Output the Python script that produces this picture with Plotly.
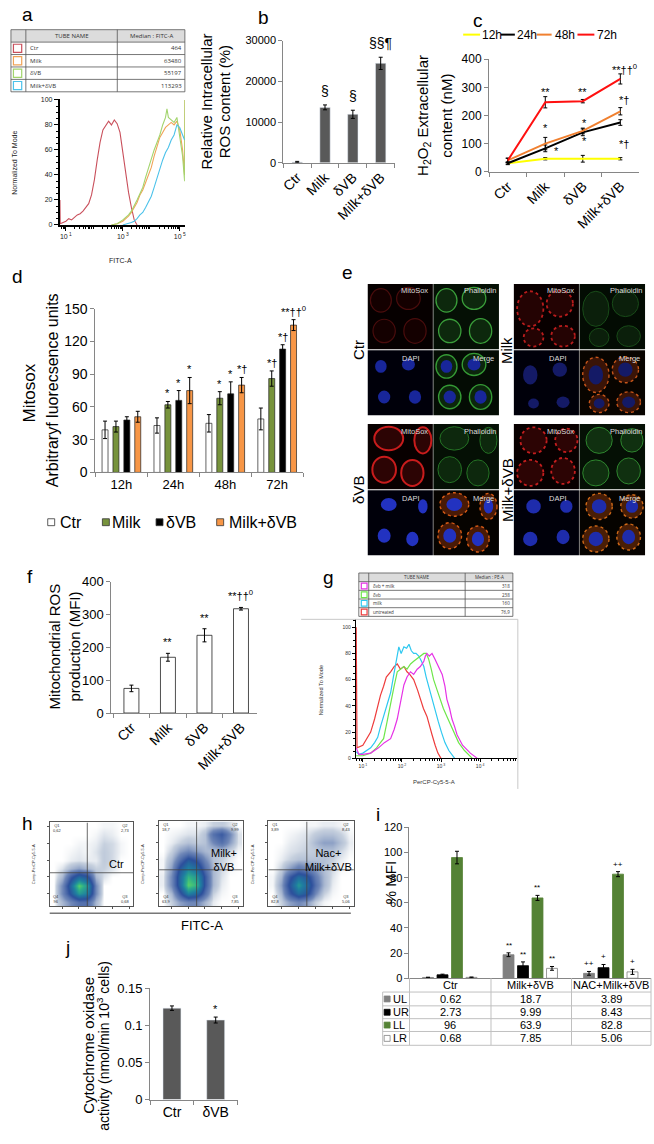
import plotly.graph_objects as go

W, H = 654, 1144
SANS = "Liberation Sans, Arial, sans-serif"
CAL = "Open Sans, sans-serif"
GRAY = "#868686"

# ---------------- data ----------------
groups = ["Ctr", "Milk", "δVB", "Milk+δVB"]

# a: FITC-A histograms, x = log10(FITC-A), y = % of mode
a_tubes = ["Ctr", "Milk", "δVB", "Milk+δVB"]
a_medians = ["464", "63480", "55197", "113293"]
a_colors = ["#c9505c", "#f0a458", "#a2d46c", "#4cc2ea"]
a_ctr_lx = [0.79, 0.8, 0.9, 1.0, 1.1, 1.2, 1.3, 1.4, 1.5, 1.6, 1.7, 1.8, 1.9, 2.0, 2.1,
            2.2, 2.3, 2.4, 2.5, 2.6, 2.7, 2.8, 2.9, 3.0, 3.1, 3.2, 3.3, 3.4, 3.5]
a_ctr_y = [20, 1, 2, 3, 5, 4, 6, 8, 9, 11, 14, 17, 24, 36, 52,
           66, 76, 80, 83, 80, 84, 81, 74, 58, 40, 26, 14, 4, 0]
a_milk_lx = [2.6, 2.8, 3.0, 3.2, 3.3, 3.4, 3.5, 3.6, 3.7, 3.8, 3.9, 4.0, 4.1, 4.2, 4.3,
             4.4, 4.5, 4.6, 4.7, 4.8, 4.9, 5.0, 5.1, 5.17, 5.18]
a_milk_y = [0, 1, 3, 7, 10, 14, 18, 24, 28, 34, 40, 46, 55, 62, 70,
            74, 78, 80, 82, 80, 83, 76, 60, 40, 100]
a_dvb_lx = [2.6, 2.8, 3.0, 3.1, 3.2, 3.3, 3.4, 3.5, 3.6, 3.7, 3.8, 3.9, 4.0, 4.1, 4.2,
            4.3, 4.4, 4.5, 4.55, 4.6, 4.7, 4.8, 4.9, 5.0, 5.1, 5.17, 5.18]
a_dvb_y = [0, 1, 4, 6, 8, 11, 15, 20, 25, 30, 38, 46, 52, 60, 66,
           72, 80, 86, 93, 86, 84, 82, 86, 72, 55, 35, 100]
a_mix_lx = [3.0, 3.2, 3.3, 3.4, 3.5, 3.6, 3.7, 3.8, 3.9, 4.0, 4.1, 4.2, 4.3, 4.4, 4.5,
            4.6, 4.7, 4.8, 4.9, 5.0, 5.1, 5.17]
a_mix_y = [0, 1, 2, 3, 5, 8, 10, 14, 18, 23, 30, 38, 44, 52, 58,
           62, 68, 72, 80, 78, 72, 68]

# b: relative intracellular ROS (%)
b_ros = [200, 13600, 11900, 24400]
b_err = [150, 600, 1000, 1500]
b_sig = ["", "§", "§", "§§¶"]

# c: H2O2 extracellular (nM)
c_hours = ["12h", "24h", "48h", "72h"]
c_colors = ["#ffff00", "#000000", "#f08030", "#ff1010"]
c_vals = {"12h": [30, 46, 46, 46], "24h": [30, 83, 140, 175],
          "48h": [40, 100, 145, 215], "72h": [40, 247, 251, 330]}
c_errs = {"12h": [3, 4, 12, 4], "24h": [5, 12, 12, 10],
          "48h": [8, 22, 10, 13], "72h": [8, 20, 6, 18]}
c_sig_x = [1, 2, 3.1, 1, 1.3, 2.05, 2.05, 3.1, 3.1]
c_sig_y = [283, 283, 367, 154, 72, 172, 108, 256, 99]
c_sig_txt = ["**", "**", "**††<sup>0</sup>", "*", "*", "*", "*", "*†", "*†"]

# d: Mitosox fluorescence
d_hours = ["12h", "24h", "48h", "72h"]
d_series = ["Ctr", "Milk", "δVB", "Milk+δVB"]
d_colors = ["#ffffff", "#77933c", "#000000", "#f79646"]
d_vals = [[39, 43, 45, 49], [42, 62, 68, 86], [48, 66, 72, 113], [51, 75, 80, 135]]
d_errs = [[8, 7, 8, 10], [5, 3, 6, 7], [3, 9, 11, 4], [5, 12, 7, 5]]
d_sig = [["", "", "", ""], ["", "*", "*", "*†"], ["", "*", "*", "*†"],
         ["", "*", "*†", "**††<sup>0</sup>"]]

# f: mitochondrial ROS (MFI)
f_mfi = [75, 170, 237, 318]
f_err = [10, 12, 20, 4]
f_sig = ["", "**", "**", "**††<sup>0</sup>"]

# g: PerCP-Cy5-5-A histograms, x = log10, y = % of mode
g_tubes = ["δvb + milk", "δvb", "milk", "untreated"]
g_medians = ["318", "238", "160", "76,9"]
g_colors = ["#e632e6", "#6ee64a", "#2ec8f0", "#ee3c3c"]
g_mix_lx = [0.83, 0.9, 1.0, 1.2, 1.4, 1.55, 1.71, 1.8, 1.88, 1.96, 2.05, 2.13, 2.22, 2.3, 2.39,
            2.47, 2.56, 2.6, 2.64, 2.7, 2.77, 2.84, 2.9, 2.96, 3.03, 3.1, 3.15, 3.22, 3.28,
            3.35, 3.41, 3.55, 3.75, 3.93]
g_mix_y = [8, 3, 3, 4, 8, 12, 15, 22, 30, 42, 56, 62, 66, 64, 68,
           70, 74, 78, 80, 78, 80, 76, 72, 68, 64, 55, 45, 38, 30,
           24, 18, 10, 4, 0]
g_dvb_lx = [0.83, 1.0, 1.2, 1.35, 1.45, 1.53, 1.62, 1.71, 1.8, 1.88, 1.96, 2.05, 2.13, 2.22,
            2.3, 2.39, 2.47, 2.56, 2.62, 2.68, 2.75, 2.81, 2.9, 2.98, 3.06, 3.15, 3.24, 3.32,
            3.45, 3.6, 3.8]
g_dvb_y = [2, 2, 4, 8, 12, 15, 28, 43, 55, 66, 68, 70, 68, 72,
           74, 76, 78, 80, 80, 76, 68, 60, 52, 45, 38, 32, 26, 20,
           12, 6, 0]
g_milk_lx = [0.83, 0.9, 1.0, 1.1, 1.2, 1.3, 1.38, 1.45, 1.53, 1.6, 1.71, 1.78, 1.84, 1.92,
             1.98, 2.05, 2.12, 2.18, 2.24, 2.3, 2.36, 2.43, 2.5, 2.56, 2.62, 2.68, 2.76,
             2.85, 2.93, 3.01, 3.1, 3.2, 3.3, 3.35]
g_milk_y = [5, 3, 4, 6, 8, 12, 16, 24, 32, 40, 50, 62, 72, 85,
            80, 85, 84, 87, 82, 80, 80, 78, 74, 70, 62, 55, 46,
            37, 28, 20, 12, 6, 2, 0]
g_unt_lx = [0.83, 0.85, 1.0, 1.1, 1.2, 1.3, 1.38, 1.45, 1.53, 1.6, 1.71, 1.8, 1.88, 1.96,
            2.05, 2.13, 2.2, 2.3, 2.4, 2.47, 2.55, 2.64, 2.7, 2.77, 2.85, 2.92, 3.0]
g_unt_y = [100, 8, 10, 15, 20, 30, 40, 48, 55, 62, 66, 70, 72, 68,
           70, 66, 64, 60, 52, 45, 38, 32, 25, 18, 10, 4, 0]

# h: annexin / PI density plots (coarse density grid, rows bottom -> top)
h_titles = ["Ctr", "Milk+<br>δVB", "Nac+<br>Milk+δVB"]
h_ctr = [[0, 1, 2, 3, 3, 1, 0, 0, 0, 0],
         [0, 2, 5, 8, 7, 2, 0, 0, 0, 0],
         [0, 2, 6, 10, 8, 2, 0, 0, 0, 0],
         [0, 1, 4, 6, 5, 1, 0.3, 0, 0, 0],
         [0, 0.3, 1, 1.5, 1, 0.5, 0.5, 0.3, 0, 0],
         [0, 0, 0.2, 0.3, 0.2, 0.2, 0.6, 0.4, 0, 0],
         [0, 0, 0.1, 0.2, 0.1, 0.3, 0.6, 0.4, 0.1, 0],
         [0, 0, 0, 0.1, 0.1, 0.2, 0.5, 0.4, 0.1, 0],
         [0, 0, 0, 0, 0, 0.1, 0.3, 0.2, 0, 0],
         [0, 0, 0, 0, 0, 0, 0.1, 0.1, 0, 0]]
h_mix = [[0, 0.5, 1.5, 2, 2, 1, 0.2, 0, 0, 0],
         [0, 1, 4, 7, 6, 3, 0.5, 0.1, 0, 0],
         [0.2, 2, 6, 10, 9, 4, 1, 0.2, 0, 0],
         [0.2, 2, 6, 9, 8, 4, 1, 0.3, 0, 0],
         [0.1, 1.5, 5, 7, 6, 3, 1, 0.4, 0.1, 0],
         [0.1, 1, 3, 5, 4, 2, 0.8, 0.5, 0.2, 0],
         [0, 0.5, 1.5, 2, 1.5, 1, 0.8, 0.8, 0.4, 0.1],
         [0, 0.2, 0.5, 0.8, 0.6, 0.8, 2, 3, 1.5, 0.3],
         [0, 0.1, 0.2, 0.3, 0.3, 0.8, 3, 4, 2, 0.3],
         [0, 0, 0, 0.1, 0.1, 0.2, 0.5, 0.6, 0.3, 0]]
h_nac = [[0, 0.5, 1.5, 2, 1.5, 0.5, 0.1, 0, 0, 0],
         [0, 1, 4, 6, 5, 2, 0.5, 0.1, 0, 0],
         [0.1, 1.5, 5, 8, 6, 3, 1, 0.2, 0, 0],
         [0.1, 1, 4, 6, 5, 2.5, 1, 0.3, 0, 0],
         [0, 0.5, 1.5, 2.5, 2, 1.5, 0.8, 0.4, 0.1, 0],
         [0, 0.2, 0.5, 0.8, 0.8, 0.8, 0.8, 0.5, 0.2, 0],
         [0, 0.1, 0.3, 0.4, 0.5, 0.6, 0.8, 0.8, 0.4, 0.1],
         [0, 0, 0.2, 0.3, 0.4, 1, 1.5, 1.5, 0.8, 0.2],
         [0, 0, 0.1, 0.2, 0.3, 0.6, 0.8, 0.8, 0.5, 0.1],
         [0, 0, 0, 0, 0.1, 0.1, 0.2, 0.2, 0.1, 0]]
h_gate_x = [4.0, 4.0, 4.0]
h_gate_y = [3.5, 3.8, 3.8]

# i: % MFI per quadrant
i_groups = ["Ctr", "Milk+δVB", "NAC+Milk+δVB"]
i_quads = ["UL", "UR", "LL", "LR"]
i_colors = ["#808080", "#000000", "#548235", "#ffffff"]
i_vals = [[0.62, 18.7, 3.89], [2.73, 9.99, 8.43], [96, 63.9, 82.8], [0.68, 7.85, 5.06]]
i_errs = [[0.2, 1.5, 1.5], [0.5, 3, 2.5], [5, 2, 2], [0.3, 1.5, 2]]
i_sig = [["", "**", "++"], ["", "**", "+"], ["", "**", "++"], ["", "**", "+"]]

# j: cytochrome oxidase activity
j_groups = ["Ctr", "δVB"]
j_act = [0.123, 0.107]
j_err = [0.003, 0.004]
j_sig = ["", "*"]


# ---------------- helpers ----------------
def px(x):
    return x / W


def py(y):
    return 1 - y / H


lay = {}
anns = []
shp = []
fig = go.Figure()


def axstyle(**kw):
    d = dict(showgrid=False, zeroline=False, showline=True, linecolor=GRAY, linewidth=1,
             ticks="outside", ticklen=4, tickcolor=GRAY, tickwidth=1,
             tickfont=dict(family=SANS, size=12, color="black"))
    d.update(kw)
    return d


def subplot(n, box, xa, ya):
    x0, y0, x1, y1 = box
    k = "" if n == 1 else str(n)
    lay["xaxis" + k] = dict(domain=[px(x0), px(x1)], anchor="y" + k, **xa)
    lay["yaxis" + k] = dict(domain=[py(y1), py(y0)], anchor="x" + k, **ya)
    return "x" + k, "y" + k


def text(x, y, s, size=12, color="black", xa="center", ya="middle", angle=0, family=SANS):
    anns.append(dict(x=px(x), y=py(y), xref="paper", yref="paper", text=s, showarrow=False,
                     font=dict(size=size, color=color, family=family), xanchor=xa,
                     yanchor=ya, textangle=angle, borderpad=0))


def line(x0, y0, x1, y1, color="black", width=1):
    shp.append(dict(type="line", xref="paper", yref="paper", x0=px(x0), y0=py(y0),
                    x1=px(x1), y1=py(y1), line=dict(color=color, width=width)))


def rect(x0, y0, x1, y1, fill, color=None, width=0, kind="rect", dash="solid"):
    shp.append(dict(type=kind, xref="paper", yref="paper", x0=px(x0), y0=py(y1),
                    x1=px(x1), y1=py(y0), fillcolor=fill,
                    line=dict(color=color or fill, width=width, dash=dash)))


def err(arr):
    return dict(type="data", array=arr, color="black", thickness=1, width=2)


def sig(xr, yr, x, y, s, size=11, shift=2):
    anns.append(dict(x=x, y=y, xref=xr, yref=yr, text=s, showarrow=False, yanchor="bottom",
                     yshift=shift, font=dict(size=size, family=SANS, color="black")))


def flow_table(x0, x1, cols, ytop, rowh, head, names, vals, colors, size):
    nrow = len(names) + 1
    ybot = ytop + rowh * nrow
    rect(x0, ytop, x1, ytop + rowh, "#dcdcdc")
    for k in range(nrow + 1):
        line(x0, ytop + k * rowh, x1, ytop + k * rowh, "#555555", 0.8)
    for c in [x0] + cols + [x1]:
        line(c, ytop, c, ybot, "#555555", 0.8)
    text((cols[0] + cols[1]) / 2, ytop + rowh / 2, head[0], size, "#333333", family=CAL)
    text((cols[1] + x1) / 2, ytop + rowh / 2, head[1], size, "#333333", family=CAL)
    for k, (nm, v, c) in enumerate(zip(names, vals, colors)):
        yc = ytop + rowh * (k + 1.5)
        s = rowh * 0.33
        rect(x0 + 2.5, yc - s, x0 + 2.5 + 2 * s, yc + s, "rgba(0,0,0,0)", c, 1.2)
        text(cols[0] + 3, yc, nm, size, "#333333", xa="left", family=CAL)
        text(x1 - 2, yc, v, size, "#333333", xa="right", family=CAL)


# ---------------- a ----------------
a_minor = [m * 10 ** e for e in range(0, 6) for m in range(2, 10)]
xa, ya = subplot(1, (57, 92, 183, 220),
                 axstyle(type="log", range=[0.78, 5.18], tickvals=[10, 1000, 100000],
                         ticktext=["10<sup> 1</sup>", "10<sup> 3</sup>", "10<sup> 5</sup>"],
                         linecolor="black", tickcolor="black", linewidth=1.5, ticklen=4,
                         tickfont=dict(family=SANS, size=7, color="#222"),
                         minor=dict(ticks="outside", ticklen=2, tickvals=a_minor,
                                    tickcolor="black")),
                 axstyle(range=[0, 101], dtick=20, linecolor="black", tickcolor="black",
                         linewidth=1.5, tickfont=dict(family=SANS, size=7, color="#222"),
                         minor=dict(ticks="outside", ticklen=2, dtick=5, tickcolor="black")))
for lx, yy, c in [(a_ctr_lx, a_ctr_y, a_colors[0]), (a_milk_lx, a_milk_y, a_colors[1]),
                  (a_dvb_lx, a_dvb_y, a_colors[2]), (a_mix_lx, a_mix_y, a_colors[3])]:
    fig.add_trace(go.Scatter(x=[10 ** v for v in lx], y=yy, mode="lines",
                             line=dict(color=c, width=1.1), xaxis=xa, yaxis=ya))
text(12, 157, "Normalized To Mode", 7, "#222", angle=-90)
text(118, 256, "FITC-A", 7, "#222")
flow_table(8, 183, [23, 115], 22, 12.6, ["TUBE NAME", "Median : FITC-A"],
           a_tubes, a_medians, a_colors, 6)

# ---------------- b ----------------
xa, ya = subplot(2, (282, 33, 394, 157),
                 axstyle(type="category", range=[-0.5, 3.5], tickson="boundaries",
                         tickangle=-45, tickfont=dict(family=SANS, size=14, color="black")),
                 axstyle(range=[0, 30000], tickvals=[0, 10000, 20000, 30000], tickformat="d",
                         tickfont=dict(family=SANS, size=11, color="black")))
fig.add_trace(go.Bar(x=groups, y=b_ros, width=0.37, marker=dict(color="#595959"),
                     error_y=err(b_err), xaxis=xa, yaxis=ya))
for i, s in enumerate(b_sig):
    if s:
        sig(xa, ya, i, b_ros[i] + b_err[i], s, 14, 4)
text(205, 95, "Relative Intracellular", 15, angle=-90)
text(223, 95, "ROS content (%)", 15, angle=-90)

# ---------------- c ----------------
xa, ya = subplot(3, (489, 52, 640, 166),
                 axstyle(type="category", range=[-0.5, 3.5], tickson="boundaries",
                         tickangle=-45, tickfont=dict(family=SANS, size=14, color="black")),
                 axstyle(range=[0, 400], dtick=100,
                         tickfont=dict(family=SANS, size=12, color="black")))
for h, c in zip(c_hours, c_colors):
    fig.add_trace(go.Scatter(x=groups, y=c_vals[h], mode="lines", line=dict(color=c, width=2),
                             error_y=err(c_errs[h]), xaxis=xa, yaxis=ya))
for x, y, s in zip(c_sig_x, c_sig_y, c_sig_txt):
    anns.append(dict(x=x, y=y, xref=xa, yref=ya, text=s, showarrow=False,
                     font=dict(size=11, family=SANS, color="black")))
text(423, 109, "H<sub>2</sub>O<sub>2</sub> Extracellular", 15, angle=-90)
text(446, 109, "content (nM)", 15, angle=-90)
for (l0, l1, tx), h, c in zip([(463, 480, 481), (501, 515, 516), (537, 552, 554), (578, 595, 597)],
                              c_hours, c_colors):
    line(l0, 27, l1, 27, c, 2)
    text(tx, 27, h, 12, xa="left")

# ---------------- d ----------------
xa, ya = subplot(4, (93, 305, 302, 471),
                 axstyle(type="category", range=[-0.5, 3.5], tickson="boundaries",
                         tickfont=dict(family=SANS, size=13, color="black")),
                 axstyle(range=[0, 150], dtick=30,
                         tickfont=dict(family=SANS, size=14, color="black")))
pitch, bw = 0.21, 0.115
for k in range(4):
    off = (k - 1.5) * pitch - bw / 2
    fig.add_trace(go.Bar(x=d_hours, y=d_vals[k], width=bw, offset=off,
                         marker=dict(color=d_colors[k], line=dict(color="#222", width=0.7)),
                         error_y=err(d_errs[k]), xaxis=xa, yaxis=ya))
    for j, s in enumerate(d_sig[k]):
        if s:
            sig(xa, ya, j + off + bw / 2, d_vals[k][j] + d_errs[k][j], s, 11, 0)
text(27, 390, "Mitosox", 17, angle=-90)
text(50, 388, "Arbitraryf luorecsence units", 16, angle=-90)
for (s0, tx), nm, c in zip([(45, 56), (100, 109), (154, 163), (215, 226)], d_series, d_colors):
    rect(s0, 518, s0 + 7, 525, c, "#333", 0.8)
    text(tx, 522, nm, 16, xa="left")

# ---------------- e (confocal tiles, schematic) ----------------
E_ST = {
    "Ctr": dict(mb="#060000", mf="rgba(50,0,0,0.35)", ml="#4a0c0c", mw=1.2, md="solid",
                pb="#051005", pf="rgba(20,60,20,0.55)", pl="#3a9e3a", pw=1.3,
                dn="#18269a", gb="#040c04", gf="rgba(20,60,20,0.55)", gl="#359a35", gd="solid"),
    "Milk": dict(mb="#080000", mf="rgba(90,8,8,0.35)", ml="#b81c1c", mw=1.8, md="dot",
                 pb="#030c03", pf="rgba(16,45,16,0.6)", pl="#184a18", pw=1,
                 dn="#141a66", gb="#080400", gf="rgba(120,40,16,0.45)", gl="#c8561a", gd="dot"),
    "δVB": dict(mb="#080000", mf="rgba(100,10,10,0.4)", ml="#c81c1c", mw=2, md="solid",
                pb="#051005", pf="rgba(20,60,20,0.55)", pl="#247224", pw=1,
                dn="#2232c0", gb="#060300", gf="rgba(140,50,12,0.5)", gl="#d85c16", gd="dot"),
    "Milk+δVB": dict(mb="#080000", mf="rgba(100,10,10,0.4)", ml="#c41e1e", mw=1.8, md="dot",
                     pb="#051005", pf="rgba(25,75,25,0.55)", pl="#2e862e", pw=1,
                     dn="#1e2cac", gb="#060300", gf="rgba(140,58,12,0.5)", gl="#d06a18",
                     gd="dot"),
}
E_CELLS = {
    "Ctr": [(0.2, 0.25, 0.16, 0.18), (0.62, 0.22, 0.18, 0.17),
            (0.25, 0.72, 0.17, 0.18), (0.72, 0.72, 0.17, 0.19)],
    "Milk": [(0.25, 0.38, 0.2, 0.27), (0.7, 0.3, 0.2, 0.2),
             (0.75, 0.8, 0.18, 0.16), (0.3, 0.82, 0.15, 0.14)],
    "δVB": [(0.32, 0.22, 0.22, 0.18), (0.84, 0.25, 0.13, 0.2),
            (0.25, 0.7, 0.18, 0.2), (0.68, 0.75, 0.17, 0.2)],
    "Milk+δVB": [(0.3, 0.25, 0.2, 0.2), (0.8, 0.25, 0.17, 0.18),
                 (0.25, 0.75, 0.2, 0.2), (0.75, 0.72, 0.18, 0.2)],
}
T = 66
for name, x0, y0, lx, ly in [("Ctr", 367, 280, 357, 347), ("Milk", 514, 280, 506, 347),
                              ("δVB", 367, 422, 357, 489), ("Milk+δVB", 514, 422, 507, 489)]:
    st = E_ST[name]
    tiles = {"m": (x0, y0), "p": (x0 + T, y0), "d": (x0, y0 + T + 1), "g": (x0 + T, y0 + T + 1)}
    rect(x0, y0, x0 + T - 0.5, y0 + T, st["mb"])
    rect(x0 + T, y0, x0 + 2 * T, y0 + T, st["pb"])
    rect(x0, y0 + T + 1, x0 + T - 0.5, y0 + 2 * T + 1, "#00000a")
    rect(x0 + T, y0 + T + 1, x0 + 2 * T, y0 + 2 * T + 1, st["gb"])
    for cx, cy, rx, ry in E_CELLS[name]:
        def ell(tile, fr, fill, col, wd, dash="solid"):
            tx, ty = tiles[tile]
            rect(tx + (cx - rx * fr) * T, ty + (cy - ry * fr) * T,
                 tx + (cx + rx * fr) * T, ty + (cy + ry * fr) * T,
                 fill, col, wd, "circle", dash)
        ell("m", 1, st["mf"], st["ml"], st["mw"], st["md"])
        ell("p", 1, st["pf"], st["pl"], st["pw"])
        ell("d", 0.55, st["dn"], st["dn"], 0)
        ell("g", 1, st["gf"], st["gl"], 1.4, st["gd"])
        ell("g", 0.55, st["dn"], st["dn"], 0)
    text(x0 + T - 4, y0 + 7, "MitoSox", 7.5, "#dddddd", xa="right")
    text(x0 + 2 * T - 1, y0 + 7, "Phalloidin", 7.5, "#dddddd", xa="right")
    text(x0 + T - 12, y0 + T + 9, "DAPI", 7.5, "#dddddd", xa="right")
    text(x0 + 2 * T - 4, y0 + T + 9, "Merge", 7.5, "#dddddd", xa="right")
    text(lx, ly, name, 15, angle=-90)

# ---------------- f ----------------
xa, ya = subplot(5, (109, 582, 256, 715),
                 axstyle(type="category", range=[-0.55, 3.45], tickson="boundaries",
                         tickangle=-45, tickfont=dict(family=SANS, size=14, color="black")),
                 axstyle(range=[0, 400], dtick=100,
                         tickfont=dict(family=SANS, size=13, color="black")))
fig.add_trace(go.Bar(x=groups, y=f_mfi, width=0.41,
                     marker=dict(color="white", line=dict(color="#222", width=0.8)),
                     error_y=err(f_err), xaxis=xa, yaxis=ya))
for i, s in enumerate(f_sig):
    if s:
        sig(xa, ya, i, f_mfi[i] + f_err[i], s, 11, 3)
text(52, 648, "Mitochondrial ROS", 15, angle=-90)
text(72, 648, "production (MFI)", 15, angle=-90)

# ---------------- g ----------------
g_minor = [m * 10 ** e for e in range(0, 5) for m in range(2, 10)]
xa, ya = subplot(6, (355, 620, 517, 761),
                 axstyle(type="log", range=[0.82, 4.94], tickvals=[10, 100, 1000, 10000],
                         ticktext=["10<sup> 1</sup>", "10<sup> 2</sup>", "10<sup> 3</sup>",
                                   "10<sup> 4</sup>"],
                         linecolor="black", tickcolor="black", linewidth=1.2, ticklen=3,
                         tickfont=dict(family=SANS, size=5, color="#333"),
                         minor=dict(ticks="outside", ticklen=2, tickvals=g_minor,
                                    tickcolor="black")),
                 axstyle(range=[0, 106], tickvals=[0, 20, 40, 60, 80, 100],
                         linecolor="black", tickcolor="black", linewidth=1.2, ticklen=3,
                         tickfont=dict(family=SANS, size=5, color="#333"),
                         minor=dict(ticks="outside", ticklen=2, dtick=5, tickcolor="black")))
for lx, yy, c in [(g_unt_lx, g_unt_y, g_colors[3]), (g_milk_lx, g_milk_y, g_colors[2]),
                  (g_dvb_lx, g_dvb_y, g_colors[1]), (g_mix_lx, g_mix_y, g_colors[0])]:
    fig.add_trace(go.Scatter(x=[10 ** v for v in lx], y=yy, mode="lines",
                             line=dict(color=c, width=1.2), xaxis=xa, yaxis=ya))
line(300, 620, 518, 620, "#c8c8c8", 1)
line(518, 620, 518, 792, "#c8c8c8", 1)
text(320, 692, "Normalized To Mode", 5.5, "#333", angle=-90)
text(434, 785, "PerCP-Cy5-5-A", 6, "#333")
flow_table(358, 513, [368, 465], 573, 8.8, ["TUBE NAME", "Median : PE-A"],
           g_tubes, g_medians, g_colors, 4.5)

# ---------------- h ----------------
h_scale = [[0, "#ffffff"], [0.01, "#f4f6f8"], [0.05, "#c6d0de"], [0.2, "#7088b8"],
           [0.45, "#2c4f9c"], [0.7, "#1f7fa0"], [0.88, "#2eae8a"], [1, "#58d268"]]
h_quads = [[0.62, 2.73, 96.0, 0.68], [18.7, 9.99, 63.9, 7.85], [3.89, 8.43, 82.8, 5.06]]
h_boxes = [(47, 826, 131, 911), (157, 825, 241, 911), (267, 825, 353, 911)]
h_lbl = [(123, 868, "right"), (236, 864, "right"), (352, 864, "right")]
for n, (z, box, gx, gy, q, lb, ttl) in enumerate(zip([h_ctr, h_mix, h_nac], h_boxes,
                                                     h_gate_x, h_gate_y, h_quads, h_lbl,
                                                     h_titles)):
    edge = dict(showgrid=False, zeroline=False, showline=True, mirror=True, linecolor="#555",
                linewidth=0.8, ticks="outside", ticklen=2, tickcolor="#555",
                range=[-0.5, 9.5], tickvals=[1, 3, 5, 7, 9], showticklabels=False)
    xa, ya = subplot(7 + n, box, edge, dict(edge))
    fig.add_trace(go.Heatmap(z=z, colorscale=h_scale, zmin=0, zmax=10, zsmooth="best",
                             showscale=False, hoverinfo="skip", xaxis=xa, yaxis=ya))
    shp.append(dict(type="line", xref=xa, yref=ya, x0=gx, x1=gx, y0=-0.5, y1=9.5,
                    line=dict(color="#444", width=0.8)))
    shp.append(dict(type="line", xref=xa, yref=ya, x0=-0.5, x1=9.5, y0=gy, y1=gy,
                    line=dict(color="#444", width=0.8)))
    qs = [f"{v:.3g}".replace(".", ",") for v in q]
    x0, y0, x1, y1 = box
    text(x0 + 2, y0 + 6, "Q1<br>" + qs[0], 4, "#333", xa="left")
    text(x1 - 2, y0 + 6, "Q2<br>" + qs[1], 4, "#333", xa="right")
    text(x0 + 2, y1 - 7, "Q4<br>" + qs[2], 4, "#333", xa="left")
    text(x1 - 2, y1 - 7, "Q3<br>" + qs[3], 4, "#333", xa="right")
    text(x0 - 16, (y0 + y1) / 2, "Comp-PerCP-Cy5-5-A", 4, "#333", angle=-90)
    text(lb[0], lb[1], ttl, 11, xa=lb[2])
line(47, 918, 350, 918, "#333", 1)
text(200, 931, "FITC-A", 13)

# ---------------- i ----------------
xa, ya = subplot(10, (409, 831, 652, 984),
                 axstyle(type="category", range=[-0.5, 2.5], showticklabels=False, ticks=""),
                 axstyle(range=[0, 120], dtick=20,
                         tickfont=dict(family=SANS, size=11, color="black")))
ip, iw = 0.18, 0.136
for k in range(4):
    off = (k - 1.5) * ip - iw / 2
    fig.add_trace(go.Bar(x=i_groups, y=i_vals[k], width=iw, offset=off,
                         marker=dict(color=i_colors[k],
                                     line=dict(color="#808080" if k == 3 else i_colors[k],
                                               width=0.8)),
                         error_y=err(i_errs[k]), xaxis=xa, yaxis=ya))
    for j, s in enumerate(i_sig[k]):
        if s:
            sig(xa, ya, j + off + iw / 2, i_vals[k][j] + i_errs[k][j], s, 8, 1)
text(390, 887, "% MFI", 15, angle=-90)
for c in [409, 491, 572, 652]:
    line(c, 984, c, 1052, "#c0c0c0", 1)
line(382, 998, 382, 1052, "#c0c0c0", 1)
for r in [998, 1012, 1025, 1038, 1052]:
    line(382, r, 652, r, "#c0c0c0", 1)
for g, cx in zip(i_groups, [450, 531, 612]):
    text(cx, 991, g, 11)
for k, (q, c, rc) in enumerate(zip(i_quads, i_colors, [1005, 1018.5, 1031.5, 1045])):
    rect(383.5, rc - 3, 389.5, rc + 3, c, "#808080" if k == 3 else c, 0.8)
    text(391, rc, q, 11, xa="left")
    for v, cx in zip(i_vals[k], [450, 531, 612]):
        text(cx, rc, str(v), 11)

# ---------------- j ----------------
xa, ya = subplot(11, (148, 994, 236, 1107),
                 axstyle(type="category", range=[-0.5, 1.5], tickson="boundaries",
                         tickfont=dict(family=SANS, size=14, color="black")),
                 axstyle(range=[0, 0.15], dtick=0.05,
                         tickfont=dict(family=SANS, size=13, color="black")))
fig.add_trace(go.Bar(x=j_groups, y=j_act, width=0.41, marker=dict(color="#595959"),
                     error_y=err(j_err), xaxis=xa, yaxis=ya))
for i, s in enumerate(j_sig):
    if s:
        sig(xa, ya, i, j_act[i] + j_err[i], s, 11, 0)
text(86, 1052, "Cytochrome oxidase", 15, angle=-90)
text(101, 1052, "activity (nmol/min 10<sup>3</sup> cells)", 14, angle=-90)

# ---------------- panel letters ----------------
for s, x, y in [("a", 25, 7), ("b", 262, 10), ("c", 478, 13), ("d", 15, 272), ("e", 347, 268),
                ("f", 27, 577), ("g", 328, 578), ("h", 25, 827), ("i", 377, 818),
                ("j", 65, 953)]:
    text(x, y, s, 19)

fig.update_layout(width=W, height=H, margin=dict(l=0, r=0, t=0, b=0),
                  paper_bgcolor="white", plot_bgcolor="rgba(0,0,0,0)",
                  barmode="overlay", showlegend=False,
                  font=dict(family=SANS, color="black"),
                  annotations=anns, shapes=shp, **lay)
# the page body keeps its default 8px margin otherwise
fig.write_html("out.html", config={"displayModeBar": False},
               post_script="document.body.style.margin='0px';")
